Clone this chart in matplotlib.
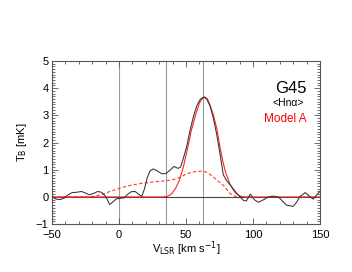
import matplotlib
matplotlib.use("Agg")
import matplotlib.pyplot as plt
from matplotlib.ticker import MultipleLocator

plt.rcParams['font.family'] = ['Liberation Sans', 'DejaVu Sans']

# observed spectrum (black)
v_obs = [-50, -47, -44, -41, -38, -35, -32, -28, -25, -22, -19, -16, -13, -10,
         -7, -5, -2, 1, 4, 6, 9, 12, 14, 17, 19, 21, 23, 25.5, 28, 32, 35, 38,
         41, 44, 46, 48, 50.5, 53, 55.5, 58, 60.5, 63, 65.5, 68, 70.5, 73, 75.5,
         77.8, 80, 82, 84, 86, 88, 90, 93, 95, 98, 101, 104, 108, 111.5, 115,
         119, 121.5, 125, 130, 132.5, 135, 139, 142.5, 145, 148, 150]
t_obs = [0.0, -0.08, -0.1, -0.04, 0.08, 0.16, 0.17, 0.2, 0.14, 0.08, 0.13, 0.2,
         0.17, 0.02, -0.28, -0.2, -0.07, -0.05, -0.03, 0.08, 0.19, 0.2, 0.12,
         0.02, 0.3, 0.7, 0.95, 1.03, 0.97, 0.85, 0.86, 0.98, 1.12, 1.05, 1.1,
         1.42, 1.85, 2.45, 2.95, 3.35, 3.58, 3.67, 3.6, 3.33, 2.88, 2.27, 1.54,
         0.82, 0.62, 0.5, 0.38, 0.25, 0.12, 0.02, -0.13, -0.15, 0.1, -0.1, -0.2,
         -0.1, 0.0, 0.03, 0.0, -0.13, -0.3, -0.35, -0.2, 0.01, 0.16, 0.01,
         -0.08, 0.1, 0.2]

# model A, narrow component (red solid)
v_mod = [-50, 33, 36, 39, 42, 45, 48, 51, 54, 57, 60, 62, 64, 66, 68, 70.5,
         73, 75.5, 77.5, 79, 81, 83, 85, 87, 89, 91, 94, 150]
t_mod = [0, 0, 0.02, 0.1, 0.3, 0.6, 1.1, 1.75, 2.45, 3.0, 3.45, 3.62, 3.68,
         3.6, 3.37, 3.0, 2.5, 1.8, 1.3, 1.0, 0.7, 0.45, 0.28, 0.15, 0.07, 0.02,
         0, 0]

# model A, broad component (red dashed)
v_brd = [-50, -22, -18, -14, -10, -7, -3, 0, 4, 8, 12, 17, 22, 27, 32, 37, 42,
         46, 50, 54, 58, 61, 64, 67, 70, 73, 76, 78, 80, 82.8, 85, 88]
t_brd = [0, 0, 0.03, 0.08, 0.13, 0.2, 0.26, 0.31, 0.37, 0.42, 0.46, 0.5, 0.53,
         0.56, 0.58, 0.61, 0.66, 0.73, 0.84, 0.9, 0.94, 0.95, 0.93, 0.86, 0.75,
         0.62, 0.5, 0.42, 0.3, 0.13, 0.06, 0.0]

v_marks = [0, 35, 63]

fig = plt.figure(figsize=(3.52, 2.72), dpi=100)
ax = fig.add_axes([0.148, 0.176, 0.761, 0.600])

for v in v_marks:
    ax.axvline(v, color='#9a9a9a', lw=0.8, zorder=1)
ax.axhline(0, color='#444444', lw=0.8, zorder=1)

ax.plot(v_brd, t_brd, color='#ff3333', lw=0.8, ls=(0, (3, 2)), zorder=2)
ax.plot(v_mod, t_mod, color='#ff2222', lw=0.8, zorder=3)
ax.plot(v_obs, t_obs, color='#333333', lw=0.75, zorder=4)

ax.set_xlim(-50, 150)
ax.set_ylim(-1, 5)
ax.xaxis.set_major_locator(MultipleLocator(50))
ax.xaxis.set_minor_locator(MultipleLocator(10))
ax.yaxis.set_major_locator(MultipleLocator(1))
ax.yaxis.set_minor_locator(MultipleLocator(0.1))
ax.tick_params(which='both', direction='in', top=True, right=True,
               labelsize=8, color='#555555', width=0.6)
ax.tick_params(which='major', length=4)
ax.tick_params(axis='x', which='major', pad=4)
ax.tick_params(axis='y', which='major', pad=2.5)
ax.tick_params(which='minor', length=2)
for s in ax.spines.values():
    s.set_color('#555555')
    s.set_linewidth(0.8)

ax.set_xlabel(r'V$_{\rm LSR}$ [km s$^{-1}$]', fontsize=8, labelpad=0)
ax.set_ylabel(r'T$_{\rm B}$ [mK]', fontsize=8)
ax.yaxis.set_label_coords(-0.088, 0.5)

ax.text(0.89, 0.83, 'G45', transform=ax.transAxes, ha='center', va='center',
        fontsize=12)
ax.text(0.88, 0.745, '<Hn\u03b1>', transform=ax.transAxes, ha='center',
        va='center', fontsize=7.5)
ax.text(0.87, 0.645, 'Model A', transform=ax.transAxes, ha='center',
        va='center', fontsize=8.5, color='red')

fig.savefig('out.png', dpi=100)
